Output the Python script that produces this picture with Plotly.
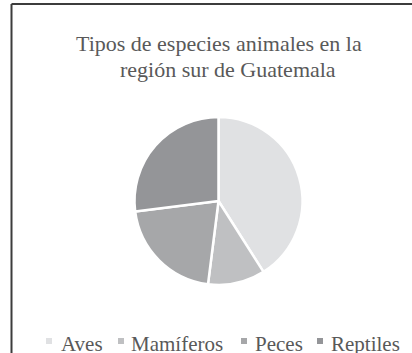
import plotly.graph_objects as go

# Species counts (percent of recorded species) by group
categories = ["Aves", "Mamíferos", "Peces", "Reptiles"]
shares = [41, 11, 21, 27]
colors = ["#e0e1e3", "#bfc0c2", "#a6a7a9", "#949598"]

title_lines = ["Tipos de especies animales en la", "región sur de Guatemala"]

W, H = 412, 353
FONT = "Liberation Serif, Times New Roman, serif"
TEXT_COLOR = "#595959"
FONT_SIZE = 21

fig = go.Figure(
    go.Pie(
        labels=categories,
        values=shares,
        sort=False,
        direction="clockwise",
        rotation=0,
        marker=dict(colors=colors, line=dict(color="white", width=2.5)),
        textinfo="none",
        hoverinfo="label+percent",
        showlegend=False,
        domain=dict(x=[134.5 / W, 302.5 / W], y=[68 / H, 236 / H]),
    )
)

# Legend row drawn as colour keys plus labels along the bottom
key_left = [46, 118, 241, 317]
label_left = [61, 131, 255, 331]
key_size = 6
key_top, key_mid = 338, 344

shapes = []
annotations = []
for name, col, kx, lx in zip(categories, colors, key_left, label_left):
    shapes.append(dict(
        type="rect", xref="paper", yref="paper",
        x0=kx / W, x1=(kx + key_size) / W,
        y0=1 - (key_top + key_size) / H, y1=1 - key_top / H,
        fillcolor=col, line=dict(width=0),
    ))
    annotations.append(dict(
        text=name, xref="paper", yref="paper",
        x=(lx - 2) / W, y=1 - key_mid / H,
        xanchor="left", yanchor="middle", showarrow=False,
        font=dict(family=FONT, size=FONT_SIZE, color=TEXT_COLOR),
    ))

# Chart title, one centred line per annotation
title_centre_x = [219, 228]
title_mid_y = [43, 70]
for line, cx, cy in zip(title_lines, title_centre_x, title_mid_y):
    annotations.append(dict(
        text=line, xref="paper", yref="paper",
        x=cx / W, y=1 - cy / H,
        xanchor="center", yanchor="middle", showarrow=False,
        font=dict(family=FONT, size=FONT_SIZE + 1, color=TEXT_COLOR),
    ))

# Chart frame: top and left edges
shapes.append(dict(type="line", xref="paper", yref="paper",
                   x0=11.5 / W, x1=1, y0=1 - 4 / H, y1=1 - 4 / H,
                   line=dict(color="#3c3c3c", width=2)))
shapes.append(dict(type="line", xref="paper", yref="paper",
                   x0=11.5 / W, x1=11.5 / W, y0=0, y1=1 - 4 / H,
                   line=dict(color="#3c3c3c", width=2)))

fig.update_layout(
    width=W, height=H,
    margin=dict(l=0, r=0, t=0, b=0),
    paper_bgcolor="white",
    plot_bgcolor="white",
    shapes=shapes,
    annotations=annotations,
)

fig.write_html("out.html")
